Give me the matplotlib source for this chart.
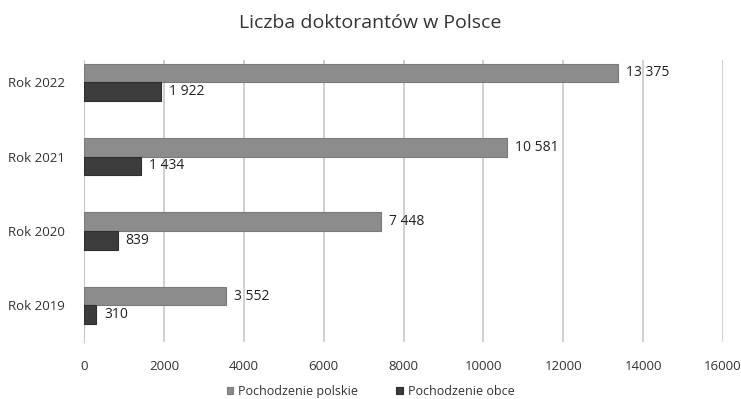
import numpy as np
import matplotlib.pyplot as plt

plt.rcParams['font.family'] = ['Open Sans', 'DejaVu Sans']

years = ['Rok 2019', 'Rok 2020', 'Rok 2021', 'Rok 2022']
polskie = [3552, 7448, 10581, 13375]
obce = [310, 839, 1434, 1922]
series_names = ['Pochodzenie polskie', 'Pochodzenie obce']
xticks = [0, 2000, 4000, 6000, 8000, 10000, 12000, 14000, 16000]

lightColor = '#8c8c8c'
darkColor = '#3c3c3c'

fig = plt.figure(figsize=(7.41, 3.99), dpi=100)
ax = fig.add_axes([0.1134, 0.143, 0.8623, 0.707])

pos = np.arange(len(years))
h = 0.25
ax.barh(pos + h / 2, polskie, height=h, color=lightColor, edgecolor='#7a7a7a', linewidth=0.8,
        label=series_names[0], zorder=3)
ax.barh(pos - h / 2, obce, height=h, color=darkColor, edgecolor='#2e2e2e', linewidth=0.8,
        label=series_names[1], zorder=3)

def fmt(v):
    return f'{v:,}'.replace(',', ' ')

for p, v in zip(pos, polskie):
    ax.text(v + 200, p + h / 2, fmt(v), va='center', ha='left', fontsize=10, color='#222222')
for p, v in zip(pos, obce):
    ax.text(v + 200, p - h / 2, fmt(v), va='center', ha='left', fontsize=10, color='#222222')

ax.set_xlim(0, 16000)
ax.set_ylim(-0.49, 3.30)
ax.set_xticks(xticks)
ax.set_xticklabels([str(t) for t in xticks], fontsize=9.5, color='#333333')
ax.set_yticks(pos)
ax.set_yticklabels(years, fontsize=9.5, color='#333333')
ax.tick_params(axis='x', length=0, pad=13)
ax.tick_params(axis='y', length=0, pad=14)
ax.grid(axis='x', color='#c8c8c8', linewidth=1.2, zorder=0)
for s in ['top', 'right', 'bottom']:
    ax.spines[s].set_visible(False)
ax.spines['left'].set_color('#c8c8c8')

fig.suptitle('Liczba doktorantów w Polsce', x=0.5, y=0.965, fontsize=14, color='#333333')

fig.legend(loc='lower center', bbox_to_anchor=(0.5, -0.025), ncol=2, frameon=False,
           fontsize=9, handlelength=0.55, handleheight=0.55, columnspacing=3.0,
           handletextpad=0.4, labelcolor='#333333')

fig.savefig('out.png', dpi=100)
